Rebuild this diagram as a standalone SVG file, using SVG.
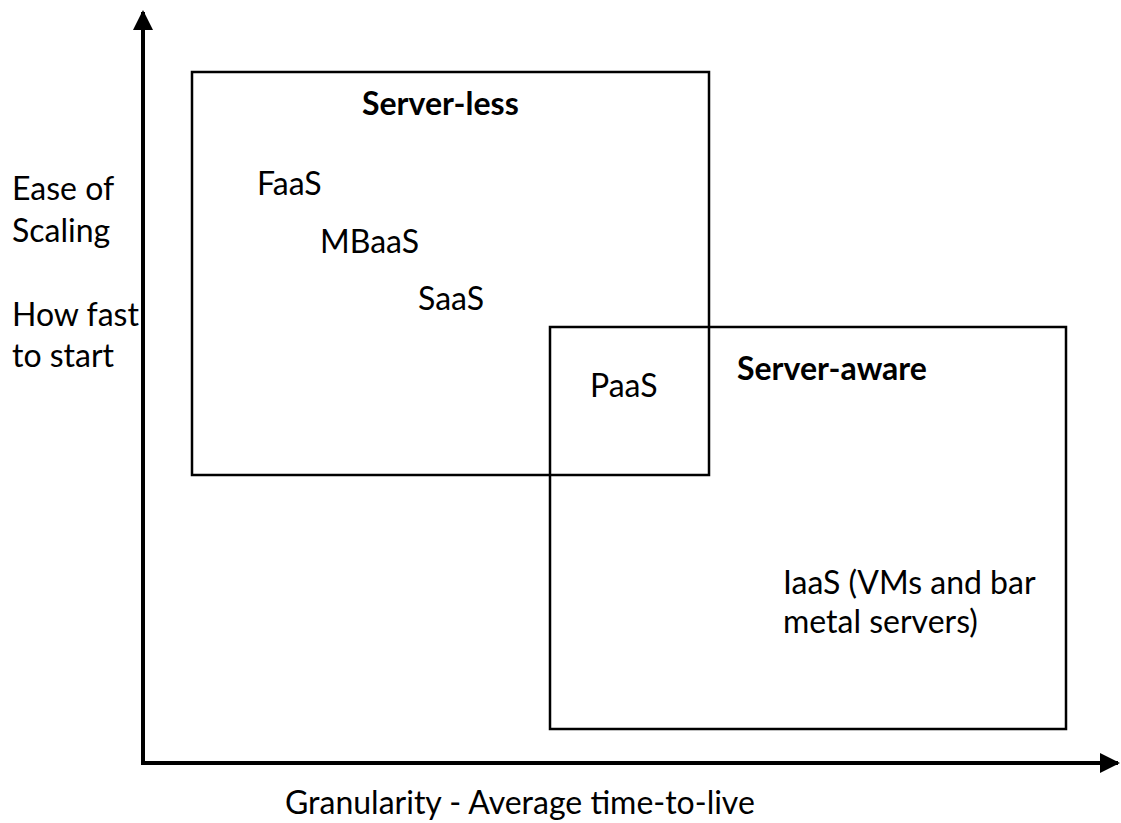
<svg xmlns="http://www.w3.org/2000/svg" width="1121" height="823" viewBox="0 0 1121 823">
<style>
text{font-family:Lato,"Liberation Sans",sans-serif;font-size:32px;fill:#000}
.b{font-weight:bold}
.box{fill:none;stroke:#000;stroke-width:2.5}
.axis{stroke:#000;stroke-width:4;fill:none}
</style>
<defs>
<marker id="ah" viewBox="0 0 10 10" refX="9" refY="5" markerWidth="5" markerHeight="5" orient="auto" markerUnits="strokeWidth">
<path d="M0,0 L10,5 L0,10 Z" fill="#000"/>
</marker>
</defs>
<rect width="1121" height="823" fill="#fff"/>
<g id="connectors">
<line class="axis" x1="143" y1="764" x2="143" y2="12" marker-end="url(#ah)"/>
<line class="axis" x1="141" y1="763" x2="1118" y2="763" marker-end="url(#ah)"/>
</g>
<g id="serverless">
<rect class="box" x="192" y="72" width="517" height="403"/>
<text class="b" x="362" y="115">Server-less</text>
<text x="257" y="195">FaaS</text>
<text x="320" y="253">MBaaS</text>
<text x="418" y="310">SaaS</text>
</g>
<g id="serveraware">
<rect class="box" x="550" y="327" width="516" height="402"/>
<text class="b" x="737" y="380">Server-aware</text>
<text x="590" y="397">PaaS</text>
<text x="783" y="594">IaaS (VMs and bar</text>
<text x="783" y="633">metal servers)</text>
</g>
<g id="ylabel">
<text x="12" y="200">Ease of</text>
<text x="12" y="242">Scaling</text>
<text x="12" y="326">How fast</text>
<text x="12" y="367">to start</text>
</g>
<g id="xlabel">
<text x="285" y="814">Granularity - Average time-to-live</text>
</g>
</svg>
